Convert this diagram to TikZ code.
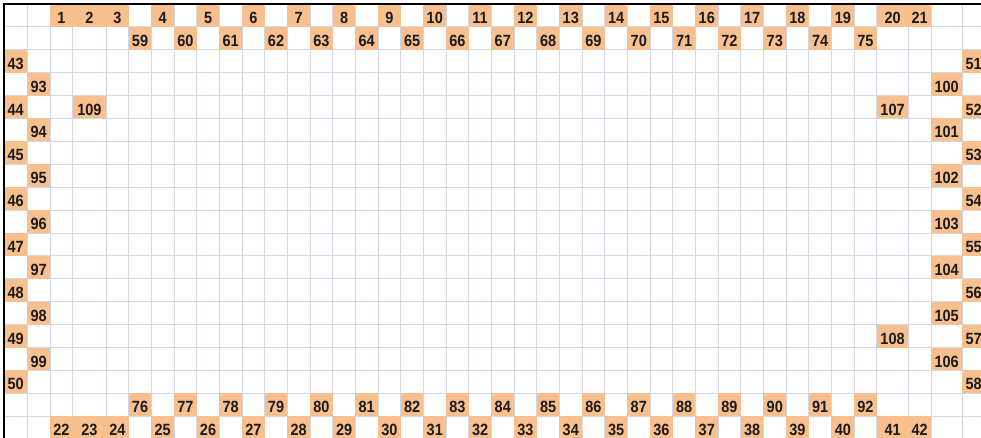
\documentclass[tikz,border=0pt]{standalone}
\usepackage{fontspec}
\setmainfont{Liberation Sans}
\definecolor{cellfill}{HTML}{F9C08F}
\definecolor{gridcol}{HTML}{D0D7E5}
\definecolor{txtcol}{HTML}{1A1A1A}
\def\E{{4,27.3,50,72.7,106,128.7,151.37,174.04,196.71,219.38,242.05,264.72,287.39,310.06,332.73,355.4,378.07,400.74,423.41,446.08,468.75,491.42,514.09,536.76,559.43,582.1,604.77,627.44,650.11,672.78,695.45,718.12,740.79,763.46,786.13,808.8,831.47,854.14,876.81,908.3,931,962.3,985}}
\newcommand\numcell[3]{%
  \pgfmathsetmacro\xl{\E[#1]}%
  \pgfmathsetmacro\xr{\E[#1+1]}%
  \pgfmathsetmacro\yt{4+22.9*#2}%
  \pgfmathsetmacro\yb{4+22.9*(#2+1)}%
  \pgfmathsetmacro\xm{(\xl+\xr)/2}%
  \fill[cellfill] (\xl,\yt) rectangle (\xr,\yb);
  \node[numtxt] (n#3) at (\xm,\yb-3.4) {#3};
}
\begin{document}
\begin{tikzpicture}[x=1pt,y=-1pt,
  numtxt/.style={anchor=base,inner sep=0pt,text=txtcol,yscale=1.12,transform shape,font=\fontsize{14.5}{14.5}\selectfont\bfseries},
  gridline/.style={draw=gridcol,line width=1pt},
  border/.style={draw=black,line width=2pt}]
\useasboundingbox (0,0) rectangle (981,438);
\fill[white] (0,0) rectangle (981,438);
\clip (0,0) rectangle (981,438);
% grid
\foreach \c in {1,...,42}{
  \pgfmathsetmacro\xx{\E[\c]}
  \draw[gridline] (\xx,4) -- (\xx,440);
}
\foreach \r in {1,...,18}{
  \draw[gridline] (4,{4+22.9*\r}) -- (985,{4+22.9*\r});
}
% top row
\numcell{2}{0}{1}
\numcell{3}{0}{2}
\numcell{4}{0}{3}
\foreach \n in {4,...,19}{ \pgfmathtruncatemacro\cc{2*\n-2} \numcell{\cc}{0}{\n} }
\numcell{38}{0}{20}
\numcell{39}{0}{21}
% second row
\foreach \j in {0,...,16}{ \pgfmathtruncatemacro\cc{5+2*\j}\pgfmathtruncatemacro\nn{59+\j} \numcell{\cc}{1}{\nn} }
% row 18
\foreach \j in {0,...,16}{ \pgfmathtruncatemacro\cc{5+2*\j}\pgfmathtruncatemacro\nn{76+\j} \numcell{\cc}{17}{\nn} }
% bottom row
\numcell{2}{18}{22}
\numcell{3}{18}{23}
\numcell{4}{18}{24}
\foreach \n in {25,...,40}{ \pgfmathtruncatemacro\cc{2*\n-44} \numcell{\cc}{18}{\n} }
\numcell{38}{18}{41}
\numcell{39}{18}{42}
% left side
\foreach \n in {43,...,50}{ \pgfmathtruncatemacro\rr{2+2*(\n-43)} \numcell{0}{\rr}{\n} }
\foreach \n in {93,...,99}{ \pgfmathtruncatemacro\rr{3+2*(\n-93)} \numcell{1}{\rr}{\n} }
% right side
\foreach \n in {51,...,58}{ \pgfmathtruncatemacro\rr{2+2*(\n-51)} \numcell{41}{\rr}{\n} }
\foreach \n in {100,...,106}{ \pgfmathtruncatemacro\rr{3+2*(\n-100)} \numcell{40}{\rr}{\n} }
% inner
\numcell{3}{4}{109}
\numcell{38}{4}{107}
\numcell{38}{14}{108}
% borders
\draw[border] (3,4) -- (985,4);
\draw[border] (4,3) -- (4,440);
\end{tikzpicture}
\end{document}
